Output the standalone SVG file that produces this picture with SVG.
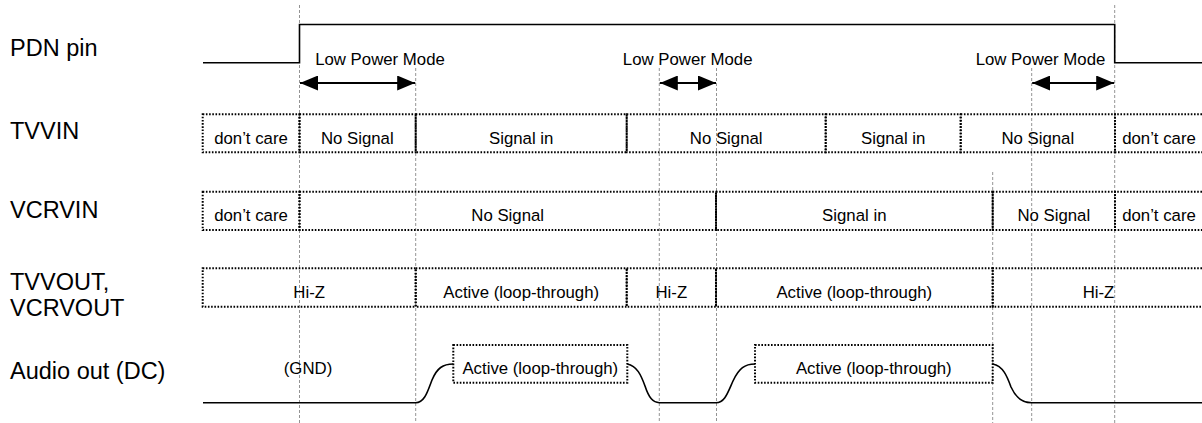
<svg xmlns="http://www.w3.org/2000/svg" width="1202" height="423" viewBox="0 0 1202 423">
<style>
.lbl{font-family:"Liberation Sans",Arial,sans-serif;font-size:23.5px;fill:#000}
.t{font-family:"Liberation Sans",Arial,sans-serif;font-size:16.8px;fill:#000;text-anchor:middle}
.box{fill:none;stroke:#000;stroke-width:2;stroke-dasharray:1.6 1.6}
.grid{fill:none;stroke:#777;stroke-width:0.8;stroke-dasharray:3 2}
.wave{fill:none;stroke:#000;stroke-width:1.6}
.arr{fill:none;stroke:#000;stroke-width:2}
</style>
<defs>
<marker id="ah" viewBox="0 0 18 15" refX="18" refY="7.5" markerWidth="18" markerHeight="15" markerUnits="userSpaceOnUse" orient="auto-start-reverse">
<path d="M0,0 L18,7.5 L0,15 Z" fill="#000"/>
</marker>
</defs>
<rect width="1202" height="423" fill="#fff"/>

<g id="grid-lines">
<line class="grid" x1="299.5" y1="5" x2="299.5" y2="423"/>
<line class="grid" x1="415.7" y1="68" x2="415.7" y2="423"/>
<line class="grid" x1="659.3" y1="68" x2="659.3" y2="423"/>
<line class="grid" x1="716.5" y1="68" x2="716.5" y2="423"/>
<line class="grid" x1="992.7" y1="172" x2="992.7" y2="423"/>
<line class="grid" x1="1031.7" y1="68" x2="1031.7" y2="423"/>
<line class="grid" x1="1114.7" y1="5" x2="1114.7" y2="423"/>
</g>

<g id="labels">
<text class="lbl" x="10" y="56">PDN pin</text>
<text class="lbl" x="10" y="139">TVVIN</text>
<text class="lbl" x="10" y="218">VCRVIN</text>
<text class="lbl" x="10" y="290">TVVOUT,</text>
<text class="lbl" x="10" y="316">VCRVOUT</text>
<text class="lbl" x="10" y="379">Audio out (DC)</text>
</g>

<g id="pdn">
<path class="wave" d="M203,62.7 H299.5 V24.5 H1114.7 V62.7 H1202"/>
</g>

<g id="lpm">
<text class="t" x="380" y="65">Low Power Mode</text>
<text class="t" x="687.7" y="65">Low Power Mode</text>
<text class="t" x="1040.5" y="65">Low Power Mode</text>
</g>

<g id="connectors">
<line class="arr" x1="300" y1="83" x2="415.2" y2="83" marker-start="url(#ah)" marker-end="url(#ah)"/>
<line class="arr" x1="659.8" y1="83" x2="716" y2="83" marker-start="url(#ah)" marker-end="url(#ah)"/>
<line class="arr" x1="1032.2" y1="83" x2="1114.2" y2="83" marker-start="url(#ah)" marker-end="url(#ah)"/>
</g>

<g id="tvvin">
<rect class="box" x="202.7" y="114.3" width="96.8" height="38"/>
<rect class="box" x="299.5" y="114.3" width="116.2" height="38"/>
<rect class="box" x="415.7" y="114.3" width="211" height="38"/>
<rect class="box" x="626.7" y="114.3" width="199" height="38"/>
<rect class="box" x="825.7" y="114.3" width="135" height="38"/>
<rect class="box" x="960.7" y="114.3" width="154.3" height="38"/>
<path class="box" d="M1202,114.3 H1115 V152.3 H1202"/>
<text class="t" x="251" y="143.5">don’t care</text>
<text class="t" x="357.3" y="143.5">No Signal</text>
<text class="t" x="521.2" y="143.5">Signal in</text>
<text class="t" x="726.2" y="143.5">No Signal</text>
<text class="t" x="893.2" y="143.5">Signal in</text>
<text class="t" x="1037.8" y="143.5">No Signal</text>
<text class="t" x="1159" y="143.5">don’t care</text>
</g>

<g id="vcrvin">
<rect class="box" x="202.7" y="191.7" width="96.8" height="38.3"/>
<rect class="box" x="299.5" y="191.7" width="416.5" height="38.3"/>
<rect class="box" x="716" y="191.7" width="276.7" height="38.3"/>
<rect class="box" x="992.7" y="191.7" width="122.3" height="38.3"/>
<path class="box" d="M1202,191.7 H1115 V230 H1202"/>
<text class="t" x="251" y="220.5">don’t care</text>
<text class="t" x="507.7" y="220.5">No Signal</text>
<text class="t" x="854.3" y="220.5">Signal in</text>
<text class="t" x="1053.8" y="220.5">No Signal</text>
<text class="t" x="1159" y="220.5">don’t care</text>
</g>

<g id="tvvout">
<rect class="box" x="202.7" y="268.3" width="213" height="38.4"/>
<rect class="box" x="415.7" y="268.3" width="211" height="38.4"/>
<rect class="box" x="626.7" y="268.3" width="89.3" height="38.4"/>
<rect class="box" x="716" y="268.3" width="276.7" height="38.4"/>
<path class="box" d="M1202,268.3 H992.7 V306.7 H1202"/>
<text class="t" x="309.2" y="297.5">Hi-Z</text>
<text class="t" x="521.2" y="297.5">Active (loop-through)</text>
<text class="t" x="671.3" y="297.5">Hi-Z</text>
<text class="t" x="854.3" y="297.5">Active (loop-through)</text>
<text class="t" x="1098.5" y="297.5">Hi-Z</text>
</g>

<g id="audio">
<path class="wave" d="M203,402.7 H415.7 C425,402.7 428,390 432,380 C437,368 443,364 453.3,364"/>
<rect class="box" x="453.3" y="345" width="174" height="37.7"/>
<path class="wave" d="M627.3,364 C637,366 641,375 645,386 C649,398 653,402.7 659.3,402.7 H716 C725,402.7 728,392 733,381 C739,368 745,364 755,364"/>
<rect class="box" x="755" y="345" width="237.7" height="37.7"/>
<path class="wave" d="M992.7,364 C1003,366 1007,376 1011,387 C1016,398 1022,402.7 1031.7,402.7 H1202"/>
<text class="t" x="540.3" y="373.5">Active (loop-through)</text>
<text class="t" x="873.8" y="373.5">Active (loop-through)</text>
<text class="t" x="308" y="373.5">(GND)</text>
</g>
</svg>
